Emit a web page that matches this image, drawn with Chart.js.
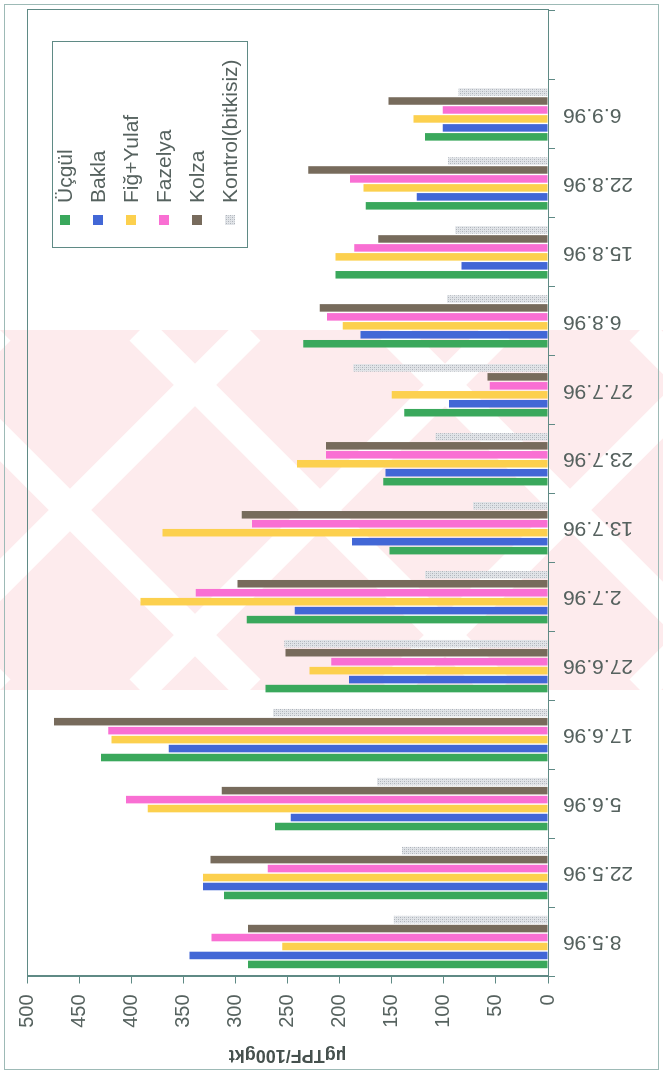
<!DOCTYPE html>
<html>
<head>
<meta charset="utf-8">
<script src="https://cdn.jsdelivr.net/npm/chart.js@4.4.0/dist/chart.umd.min.js"></script>
<style>
    html, body { margin: 0; padding: 0; background: #fff; }
    #page { position: relative; width: 663px; height: 1074px; overflow: hidden; background: #fff; }
    /* the chart is drawn upright, then the whole sheet is turned a quarter left like the scan */
    #chart { position: absolute; left: 0; top: 0; width: 1074px; height: 663px;
             transform-origin: 0 0; transform: translate(0, 1074px) rotate(-90deg); }
</style>
</head>
<body>
<div id="page"><canvas id="chart" width="1074" height="663"></canvas></div>
<script>
// sampling dates (last slot is empty in the original sheet)
const dates = ['8.5.96', '22.5.96', '5.6.96', '17.6.96', '27.6.96', '2.7.96', '13.7.96',
               '23.7.96', '27.7.96', '6.8.96', '15.8.96', '22.8.96', '6.9.96', ''];

// µgTPF/100gkt per crop
const ucgul   = [288, 311, 262, 429, 271, 289, 152, 158, 138, 235, 204, 175, 118, null];
const bakla   = [344, 331, 247, 364, 191, 243, 188, 156, 95, 180, 83, 126, 101, null];
const figYulaf = [255, 331, 384, 419, 229, 391, 370, 241, 150, 197, 204, 177, 129, null];
const fazelya = [323, 269, 405, 422, 208, 338, 284, 213, 56, 212, 186, 190, 101, null];
const kolza   = [288, 324, 313, 474, 252, 298, 294, 213, 58, 219, 163, 230, 153, null];
const kontrol = [148, 140, 164, 264, 253, 118, 72, 108, 187, 97, 89, 96, 86, null];

const yTicks = { min: 0, max: 500, step: 50 };

const lineColor = '#5f8a85';
const textColor = '#56625f';
const fontFamily = '"Liberation Sans", Arial, sans-serif';

// dotted grey fill for the control plots
function stipple() {
    const c = document.createElement('canvas');
    c.width = 4;
    c.height = 4;
    const g = c.getContext('2d');
    g.fillStyle = '#e1e4e8';
    g.fillRect(0, 0, 4, 4);
    g.fillStyle = '#aeb3ba';
    g.fillRect(0, 0, 1, 1);
    g.fillRect(2, 2, 1, 1);
    g.fillStyle = '#c6cacf';
    g.fillRect(2, 0, 1, 1);
    g.fillRect(0, 2, 1, 1);
    return g.createPattern(c, 'repeat');
}

const ctx = document.getElementById('chart').getContext('2d');

// faint pink stamp across the middle of the scanned page (page coords: across = 0..663, down = 330..690)
function drawStamp(c) {
    const toCanvas = (across, down) => [1074 - down, across];
    c.save();
    c.beginPath();
    const r0 = toCanvas(0, 330), r1 = toCanvas(663, 690);
    c.rect(r1[0], r0[1], r0[0] - r1[0], r1[1] - r0[1]);
    c.clip();
    c.fillStyle = '#fdebed';
    c.fillRect(r1[0], r0[1], r0[0] - r1[0], r1[1] - r0[1]);
    c.strokeStyle = '#ffffff';
    c.lineWidth = 30;
    for (let s = -360; s <= 660; s += 250) {
        let p = toCanvas(s, 330), q = toCanvas(s + 360, 690);
        c.beginPath(); c.moveTo(p[0], p[1]); c.lineTo(q[0], q[1]); c.stroke();
        p = toCanvas(s + 360, 330); q = toCanvas(s, 690);
        c.beginPath(); c.moveTo(p[0], p[1]); c.lineTo(q[0], q[1]); c.stroke();
    }
    c.restore();
}

// frame, plot border and the boxed legend sitting inside the plot
const sheetDecor = {
    id: 'sheetDecor',
    beforeDraw(chart) {
        const c = chart.ctx;
        c.save();
        c.fillStyle = '#ffffff';
        c.fillRect(0, 0, chart.width, chart.height);
        c.restore();
        drawStamp(c);
    },
    afterDraw(chart) {
        const c = chart.ctx;
        const a = chart.chartArea;
        c.save();
        c.lineWidth = 1;
        c.strokeStyle = '#9dbab6';
        c.strokeRect(4.5, 4.5, chart.width - 9, chart.height - 9);
        c.strokeStyle = lineColor;
        c.strokeRect(Math.round(a.left) + 0.5, Math.round(a.top) + 0.5,
                     Math.round(a.right - a.left), Math.round(a.bottom - a.top));

        // legend box
        const bx = 826, by = 52, bw = 206, bh = 195;
        c.fillStyle = '#ffffff';
        c.fillRect(bx, by, bw, bh);
        c.strokeStyle = lineColor;
        c.strokeRect(bx + 0.5, by + 0.5, bw, bh);
        c.font = '21px ' + fontFamily;
        c.textBaseline = 'middle';
        c.textAlign = 'left';
        chart.data.datasets.forEach((ds, i) => {
            const cy = by + 13 + i * 33;
            c.fillStyle = ds.backgroundColor;
            c.fillRect(bx + 23, cy - 5, 10, 10);
            c.fillStyle = textColor;
            c.fillText(ds.label, bx + 45, cy + 1);
        });
        c.restore();
    }
};

new Chart(ctx, {
    type: 'bar',
    data: {
        labels: dates,
        datasets: [
            { label: 'Üçgül', data: ucgul, backgroundColor: '#3aa85c' },
            { label: 'Bakla', data: bakla, backgroundColor: '#4267d6' },
            { label: 'Fiğ+Yulaf', data: figYulaf, backgroundColor: '#fcd04e' },
            { label: 'Fazelya', data: fazelya, backgroundColor: '#f96fd3' },
            { label: 'Kolza', data: kolza, backgroundColor: '#776b5c' },
            { label: 'Kontrol(bitkisiz)', data: kontrol, backgroundColor: stipple() }
        ]
    },
    options: {
        responsive: false,
        animation: false,
        devicePixelRatio: 1,
        categoryPercentage: 0.78,
        barPercentage: 0.84,
        layout: { padding: { left: 4, right: 11, top: 27, bottom: 4 } },
        plugins: {
            legend: { display: false },
            tooltip: { enabled: false }
        },
        scales: {
            x: {
                offset: true,
                grid: { display: true, drawOnChartArea: false, offset: true, tickLength: 7, color: lineColor },
                border: { color: lineColor },
                ticks: {
                    autoSkip: false,
                    minRotation: 90,
                    maxRotation: 90,
                    padding: 8,
                    color: textColor,
                    font: { family: fontFamily, size: 21 }
                },
                afterFit(scale) { scale.height = 663 - 548 - 4; }
            },
            y: {
                min: yTicks.min,
                max: yTicks.max,
                grid: { display: true, drawOnChartArea: false, tickLength: 7, color: lineColor },
                border: { color: lineColor },
                ticks: {
                    stepSize: yTicks.step,
                    padding: 11,
                    color: textColor,
                    font: { family: fontFamily, size: 20 }
                },
                title: {
                    display: true,
                    text: 'µgTPF/100gkt',
                    color: '#46514e',
                    padding: { top: 4, bottom: 0 },
                    font: { family: fontFamily, size: 18, weight: 'bold' }
                },
                afterFit(scale) { scale.width = 97.5 - 4; }
            }
        }
    },
    plugins: [sheetDecor]
});
</script>
</body>
</html>
